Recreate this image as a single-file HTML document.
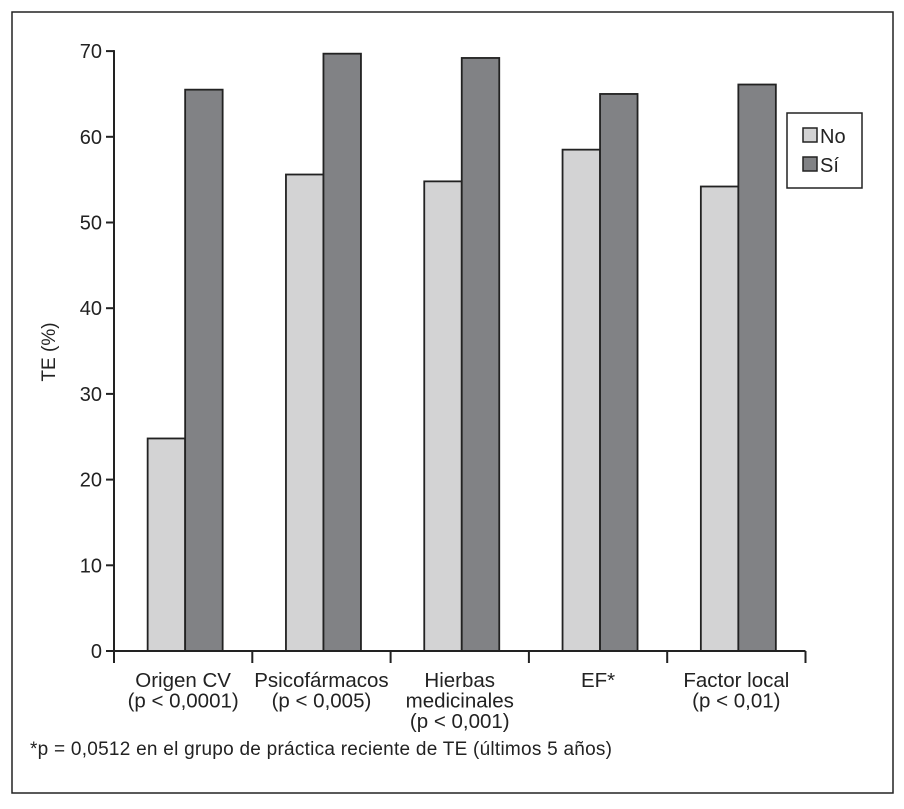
<!DOCTYPE html>
<html><head><meta charset="utf-8"><style>
body{margin:0;background:#fff;}
svg{display:block;font-family:"Liberation Sans",Arial,sans-serif;}
</style></head><body>
<svg id="chart" width="904" height="809">
<rect x="12" y="12" width="881" height="781" fill="none" stroke="#222" stroke-width="1.5"/>
<g id="g"></g>
<text x="0" y="0" transform="translate(55,352) rotate(-90)" text-anchor="middle" font-size="19" fill="#222">TE (%)</text>
<g>
<rect x="787" y="113" width="75" height="75" fill="#fff" stroke="#222" stroke-width="1.5"/>
<rect x="803" y="128" width="14" height="14" fill="#d3d3d4" stroke="#222" stroke-width="1.5"/>
<text x="820" y="143" font-size="20" fill="#222">No</text>
<rect x="803" y="157" width="14" height="14" fill="#818285" stroke="#222" stroke-width="1.5"/>
<text x="820" y="172" font-size="20" fill="#222">Sí</text>
</g>
<text x="30" y="755" font-size="19" fill="#222" textLength="582">*p = 0,0512 en el grupo de práctica reciente de TE (últimos 5 años)</text>
</svg>
<script>
const categories=[["Origen CV","(p < 0,0001)"],["Psicofármacos","(p < 0,005)"],["Hierbas","medicinales","(p < 0,001)"],["EF*"],["Factor local","(p < 0,01)"]];
const noValues=[24.8,55.6,54.8,58.5,54.2];
const siValues=[65.5,69.7,69.2,65.0,66.1];
const yTicks=[0,10,20,30,40,50,60,70];
const NS="http://www.w3.org/2000/svg";
const g=document.getElementById('g');
const x0=114,catW=138.3,y0=651,pxPer=8.57,barW=37.5;
const y=v=>y0-v*pxPer;
const xc=i=>x0+catW*(i+0.5)+2;
function mk(t,a,txt){const e=document.createElementNS(NS,t);for(const k in a)e.setAttribute(k,a[k]);if(txt!==undefined)e.textContent=txt;g.appendChild(e);return e;}
categories.forEach((c,i)=>{
 let r=mk('rect',{x:xc(i)-barW,y:y(noValues[i]),width:barW,height:noValues[i]*pxPer,fill:'#d3d3d4',stroke:'#222','stroke-width':1.8});
 
 
 r=mk('rect',{x:xc(i),y:y(siValues[i]),width:barW,height:siValues[i]*pxPer,fill:'#818285',stroke:'#222','stroke-width':1.8});
 
 
 c.forEach((ln,j)=>{const t=mk('text',{x:x0+catW*(i+0.5),y:687+j*20.5,'text-anchor':'middle','font-size':20.5,fill:'#222'},ln);
  
  });
});
for(let i=0;i<=categories.length;i++){const l=mk('line',{x1:x0+catW*i,x2:x0+catW*i,y1:y0,y2:y0+12,stroke:'#222','stroke-width':2});
 
 }
yTicks.forEach(v=>{const l=mk('line',{x1:x0-8,x2:x0,y1:y(v),y2:y(v),stroke:'#222','stroke-width':2});
 
 
 const t=mk('text',{x:x0-12,y:y(v)+7,'text-anchor':'end','font-size':20,fill:'#222'},v);
 
 });
let a=mk('line',{x1:x0,x2:x0,y1:y(70)-1,y2:y0,stroke:'#222','stroke-width':2});


a=mk('line',{x1:x0,x2:x0+catW*categories.length,y1:y0,y2:y0,stroke:'#222','stroke-width':2});


</script>
</body></html>
